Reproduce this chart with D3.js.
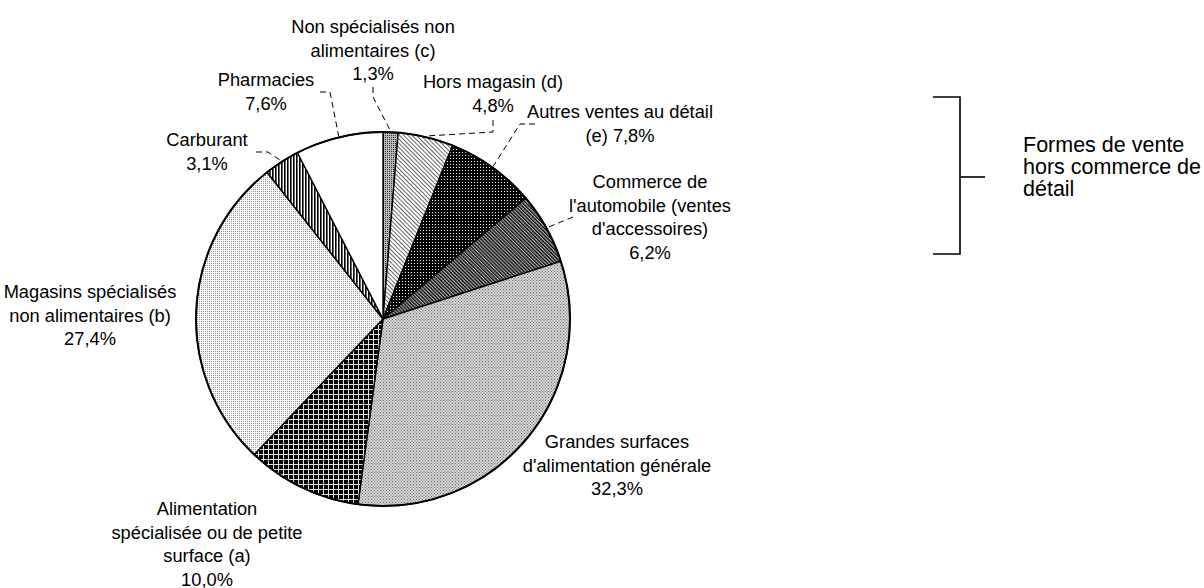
<!DOCTYPE html>
<html><head><meta charset="utf-8">
<script src="https://cdn.jsdelivr.net/npm/d3@7/dist/d3.min.js"></script>
<style>body{margin:0;background:#fff}svg{display:block}text{font-family:Arial,"Liberation Sans",sans-serif;fill:#000}</style>
</head><body><svg id="c" width="1204" height="588"></svg>
<script>
// data
const categories = ["Non spécialisés non alimentaires (c)","Hors magasin (d)","Autres ventes au détail (e)","Commerce de l'automobile (ventes d'accessoires)","Grandes surfaces d'alimentation générale","Alimentation spécialisée ou de petite surface (a)","Magasins spécialisés non alimentaires (b)","Carburant","Pharmacies"];
const values = [1.3,4.8,7.8,6.2,32.3,10.0,27.4,3.1,7.6];
const valueLabels = ["1,3%","4,8%","7,8%","6,2%","32,3%","10,0%","27,4%","3,1%","7,6%"];
const labelLines = [
  ["Non spécialisés non","alimentaires (c)","1,3%"],
  ["Hors magasin (d)","4,8%"],
  ["Autres ventes au détail","(e)  7,8%"],
  ["Commerce de","l'automobile (ventes","d'accessoires)","6,2%"],
  ["Grandes surfaces","d'alimentation générale","32,3%"],
  ["Alimentation","spécialisée ou de petite","surface (a)","10,0%"],
  ["Magasins spécialisés","non alimentaires (b)","27,4%"],
  ["Carburant","3,1%"],
  ["Pharmacies","7,6%"]
];
const bracketText = ["Formes de vente","hors commerce de","détail"];

// layout
const cx = 383, cy = 319, R = 187;
const labelPos = [
  {x:373,y:33,lead:[[373,87],[373,97]]},
  {x:493,y:88,lead:[[493,120],[493,132]]},
  {x:620,y:118,lead:[[535,124],[520,124]]},
  {x:650,y:188,lead:[[573,217]]},
  {x:617,y:448,lead:null},
  {x:207,y:515,lead:null},
  {x:90,y:298,lead:null},
  {x:207,y:146,lead:[[256,152],[268,152]]},
  {x:266,y:86,lead:[[320,92],[330,92]]}
];
const lineH = 23.5;

const svg = d3.select("#c");
const defs = svg.append("defs");
function pat(id,w,h,bg,draw,transform){
  const p = defs.append("pattern").attr("id",id).attr("patternUnits","userSpaceOnUse").attr("width",w).attr("height",h);
  if(transform) p.attr("patternTransform",transform);
  p.append("rect").attr("width",w).attr("height",h).attr("fill",bg);
  draw(p);
}
pat("pNS",2,2,"#b8b8b8",p=>p.append("rect").attr("width",1).attr("height",1).attr("fill","#333"));
pat("pHM",3,3,"#fff",p=>p.append("rect").attr("width",1).attr("height",3).attr("fill","#666"),"rotate(-45)");
pat("pAV",3,3,"#000",p=>p.append("rect").attr("x",1).attr("y",1).attr("width",1).attr("height",1).attr("fill","#fff"));
pat("pCA",2.5,2.5,"#b0b0b0",p=>p.append("rect").attr("width",1.4).attr("height",2.5).attr("fill","#111"),"rotate(-45)");
pat("pGS",3,3,"#d2d2d2",p=>{p.append("rect").attr("width",1).attr("height",1).attr("fill","#777");p.append("rect").attr("x",1.5).attr("y",1.5).attr("width",1).attr("height",1).attr("fill","#777");});
pat("pAL",5,5,"#000",p=>{p.append("rect").attr("width",5).attr("height",1).attr("fill","#e0e0e0");p.append("rect").attr("width",1).attr("height",5).attr("fill","#e0e0e0");});
pat("pMS",2,2,"#fff",p=>p.append("rect").attr("width",1).attr("height",1).attr("fill","#999"));
pat("pCB",3,3,"#fff",p=>p.append("rect").attr("width",1.6).attr("height",3).attr("fill","#000"));
const fills = ["url(#pNS)","url(#pHM)","url(#pAV)","url(#pCA)","url(#pGS)","url(#pAL)","url(#pMS)","url(#pCB)","#fff"];

const pie = d3.pie().sort(null).value(d=>d);
const arcs = pie(values);
const arc = d3.arc().innerRadius(0).outerRadius(R);
const g = svg.append("g").attr("transform",`translate(${cx},${cy})`);
g.selectAll("path.s").data(arcs).join("path").attr("class","s")
  .attr("d",arc).attr("fill",(d,i)=>fills[i]).attr("stroke","#000").attr("stroke-width",1.4).attr("stroke-linejoin","round");
g.append("circle").attr("r",R).attr("fill","none").attr("stroke","#000").attr("stroke-width",2);

// leader lines
arcs.forEach((a,i)=>{
  const lp = labelPos[i];
  if(!lp.lead) return;
  const m = (a.startAngle+a.endAngle)/2;
  const ex = cx + (R+1)*Math.sin(m), ey = cy - (R+1)*Math.cos(m);
  const pts = lp.lead.concat([[ex,ey]]);
  svg.append("path").attr("d",d3.line()(pts)).attr("fill","none").attr("stroke","#000")
    .attr("stroke-width",1).attr("stroke-dasharray","6,4");
});

// labels
labelLines.forEach((lines,i)=>{
  const lp = labelPos[i];
  const t = svg.append("text").attr("text-anchor","middle").attr("font-size",18.3);
  lines.forEach((s,k)=>t.append("tspan").attr("x",lp.x).attr("y",lp.y+k*lineH).text(s));
});

// bracket
const br = svg.append("g").attr("fill","none").attr("stroke","#000").attr("stroke-width",1.6);
br.append("path").attr("d",d3.line()([[933,97],[960,97],[960,254],[933,254]]));
br.append("path").attr("d",d3.line()([[960,177],[985,177]]));
const bt = svg.append("text").attr("font-size",21.5);
bracketText.forEach((s,k)=>bt.append("tspan").attr("x",1023).attr("y",152+k*22).text(s));
</script></body></html>
